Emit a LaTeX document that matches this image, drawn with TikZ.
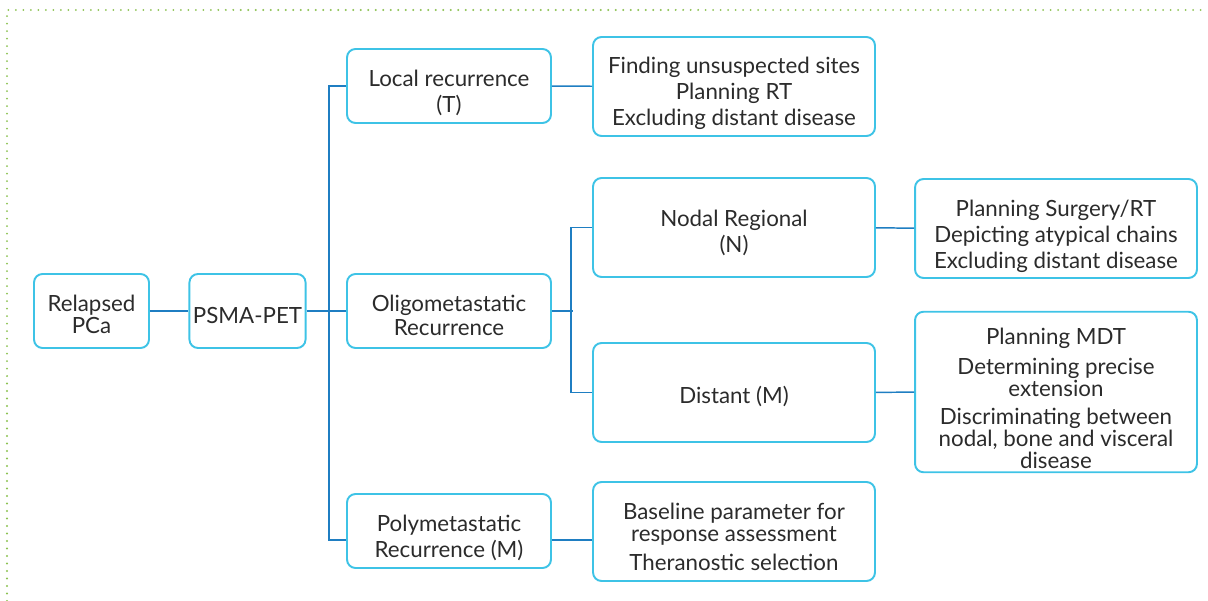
\documentclass[tikz,border=0pt]{standalone}
\usepackage{fontspec}
\setmainfont{Lato}
\usetikzlibrary{positioning}
\definecolor{boxcyan}{HTML}{3EC3E6}
\definecolor{linkblue}{HTML}{1F7EC2}
\definecolor{dotgreen}{HTML}{8CC152}
\definecolor{txtgrey}{HTML}{2B2B2B}
% invisible strut on the first line, to set the text a bit lower in its box
\newcommand{\lift}[1]{\rule{0pt}{#1}}

\begin{document}
\begin{tikzpicture}[x=0.02cm, y=-0.02cm,
    box/.style={draw=boxcyan, line width=1.1pt, rounded corners=0.17cm, align=center,
      text=txtgrey, font=\fontsize{12.7}{12.5}\selectfont, inner sep=2pt},
    small/.style={box, minimum width=2.3cm, minimum height=1.48cm},
    mid/.style={box, minimum width=4.08cm, minimum height=1.48cm},
    wide/.style={box, minimum width=5.64cm, minimum height=1.98cm},
    link/.style={draw=linkblue, line width=0.85pt}]
    \useasboundingbox (0,0) rectangle (1208,601);
    % frame
    \draw[dotgreen, line width=1.2pt, line cap=round, dash pattern=on 0pt off 0.15cm]
      (7,601) -- (7,10) -- (1208,10);
    % first column
    \node[small] (relapsed) at (91.5,311) {\lift{13.5pt}Relapsed\\PCa};
    \node[small] (psma) at (247.5,311) {\lift{14.5pt}PSMA-PET};
    % kinds of recurrence
    \node[mid] (local) at (449,86) {\lift{17pt}Local recurrence\\[0.08cm](T)};
    \node[mid] (oligo) at (449,311) {\lift{14.6pt}Oligometastatic\\[0.04cm]Recurrence};
    \node[mid] (poly) at (449,531) {\lift{17pt}Polymetastatic\\[0.08cm]Recurrence (M)};
    \node[wide] (nodal) at (734,227.5) {\lift{15.7pt}Nodal Regional\\[0.08cm](N)};
    \node[wide] (distant) at (734,392.5) {\lift{14.5pt}Distant (M)};
    % what PSMA-PET is used for
    \node[wide] (finding) at (734,86.5)
      {\lift{16.8pt}Finding unsuspected sites\\[0.08cm]Planning RT\\[0.08cm]Excluding distant disease};
    \node[wide] (baseline) at (734,531.5)
      {\lift{15.7pt}Baseline parameter for\\response assessment\\[0.14cm]Theranostic selection};
    \node[wide] (surgery) at (1056,228.5)
      {\lift{18pt}Planning Surgery/RT\\[0.08cm]Depicting atypical chains\\[0.08cm]Excluding distant disease};
    \node[wide, minimum height=3.2cm] (mdt) at (1056,392)
      {\lift{16.8pt}Planning MDT\\[0.16cm]Determining precise\\extension\\[0.12cm]Discriminating between\\nodal, bone and visceral\\disease};
    % connectors
    \draw[link] (relapsed) -- (psma);
    \draw[link] (psma) -- (oligo);
    \draw[link] (local.west) -- ++(-17,0) |- ([yshift=-0.18cm]poly.west);
    \draw[link] (local) -- (finding);
    \draw[link] (oligo.east) -- ++(21,0);
    \draw[link] (nodal.west) -- ++(-21,0) |- (distant.west);
    \draw[link] (nodal) -- (surgery);
    \draw[link] (distant) -- (mdt);
    \draw[link] ([yshift=-0.18cm]poly.east) -- ([yshift=-0.18cm]poly.east -| baseline.west);
\end{tikzpicture}
\end{document}
